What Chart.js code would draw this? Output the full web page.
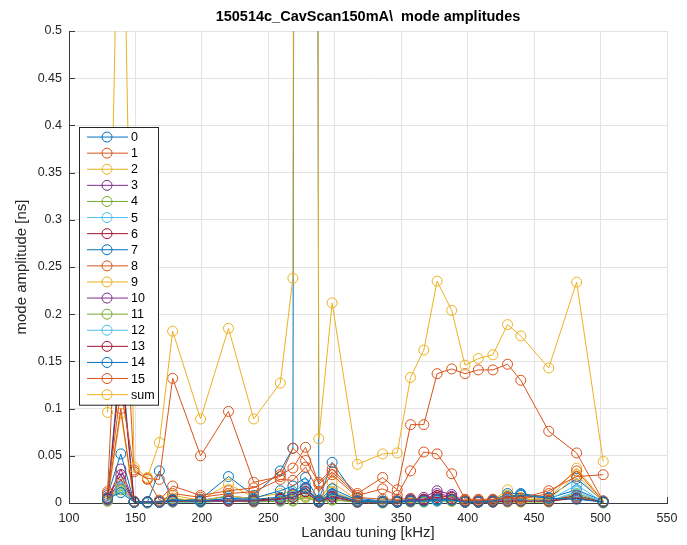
<!DOCTYPE html>
<html>
<head>
<meta charset="utf-8">
<script src="https://cdn.jsdelivr.net/npm/chart.js@4.4.1/dist/chart.umd.min.js"></script>
<style>
  html, body { margin: 0; padding: 0; background: #ffffff; }
  canvas { display: block; }
</style>
</head>
<body>
<canvas id="chart" width="687" height="545"></canvas>
<script>
// Landau cavity tuning of each measurement [kHz]
const landauKHz = [129, 139, 149, 159, 168, 178, 199, 220, 239, 259, 268.5, 278, 288, 298, 317,
                   336, 347, 357, 367, 377, 388, 398, 408, 419, 430, 440, 461, 482, 502];

// Mode amplitudes [ns], one array per coupled-bunch mode
const mode0  = [0.008, 0.052, 0.001, 0.001, 0.034, 0.003, 0.004, 0.028, 0.008, 0.034, 0.058, 8.0, 0.003, 0.043, 0.005, 0.002, 0.002, 0.003, 0.003, 0.004, 0.004, 0.002, 0.002, 0.003, 0.007, 0.009, 0.005, 0.014, 0.002];
const mode1  = [0.012, 0.300, 0.033, 0.026, 0.025, 0.132, 0.050, 0.097, 0.022, 0.028, 0.058, 0.045, 0.022, 0.036, 0.010, 0.027, 0.014, 0.083, 0.083, 0.137, 0.142, 0.137, 0.141, 0.141, 0.147, 0.130, 0.076, 0.053, 0.002];
const mode2  = [0.003, 0.095, 0.001, 0.001, 0.001, 0.008, 0.003, 0.020, 0.006, 0.010, 0.012, 0.010, 0.002, 0.022, 0.003, 0.002, 0.002, 0.002, 0.002, 0.003, 0.003, 0.002, 0.002, 0.003, 0.014, 0.006, 0.004, 0.037, 0.002];
const mode3  = [0.004, 0.036, 0.001, 0.001, 0.001, 0.003, 0.002, 0.004, 0.003, 0.004, 0.008, 0.016, 0.002, 0.008, 0.002, 0.001, 0.002, 0.004, 0.006, 0.013, 0.009, 0.002, 0.002, 0.002, 0.004, 0.004, 0.003, 0.008, 0.001];
const mode4  = [0.003, 0.018, 0.001, 0.001, 0.001, 0.002, 0.001, 0.003, 0.002, 0.002, 0.003, 0.008, 0.001, 0.004, 0.001, 0.001, 0.001, 0.002, 0.002, 0.003, 0.002, 0.001, 0.001, 0.001, 0.002, 0.002, 0.002, 0.010, 0.001];
const mode5  = [0.004, 0.022, 0.001, 0.001, 0.001, 0.002, 0.002, 0.004, 0.003, 0.004, 0.012, 0.020, 0.002, 0.012, 0.002, 0.001, 0.002, 0.003, 0.003, 0.003, 0.004, 0.001, 0.001, 0.002, 0.004, 0.004, 0.003, 0.019, 0.001];
const mode6  = [0.005, 0.030, 0.001, 0.001, 0.001, 0.003, 0.002, 0.003, 0.003, 0.005, 0.009, 0.015, 0.002, 0.009, 0.002, 0.001, 0.002, 0.003, 0.004, 0.008, 0.006, 0.002, 0.002, 0.002, 0.003, 0.003, 0.003, 0.007, 0.001];
const mode7  = [0.006, 0.160, 0.001, 0.001, 0.002, 0.004, 0.003, 0.007, 0.005, 0.013, 0.018, 0.027, 0.003, 0.015, 0.003, 0.002, 0.002, 0.003, 0.003, 0.004, 0.004, 0.002, 0.002, 0.003, 0.010, 0.010, 0.006, 0.026, 0.002];
const mode8  = [0.006, 0.100, 0.002, 0.001, 0.001, 0.010, 0.006, 0.010, 0.012, 0.025, 0.024, 0.038, 0.012, 0.030, 0.006, 0.004, 0.004, 0.005, 0.004, 0.006, 0.004, 0.003, 0.003, 0.003, 0.005, 0.004, 0.010, 0.034, 0.002];
const mode9  = [0.002, 0.020, 0.001, 0.001, 0.001, 0.005, 0.002, 0.008, 0.004, 0.006, 0.008, 0.007, 0.002, 0.012, 0.002, 0.001, 0.001, 0.002, 0.002, 0.002, 0.002, 0.001, 0.001, 0.002, 0.008, 0.004, 0.003, 0.030, 0.001];
const mode10 = [0.003, 0.025, 0.001, 0.001, 0.001, 0.002, 0.002, 0.003, 0.002, 0.003, 0.006, 0.012, 0.001, 0.006, 0.001, 0.001, 0.001, 0.003, 0.004, 0.010, 0.007, 0.001, 0.001, 0.002, 0.003, 0.003, 0.002, 0.006, 0.001];
const mode11 = [0.002, 0.014, 0.001, 0.000, 0.001, 0.001, 0.001, 0.002, 0.001, 0.002, 0.002, 0.006, 0.001, 0.003, 0.001, 0.000, 0.001, 0.001, 0.001, 0.002, 0.002, 0.001, 0.001, 0.001, 0.001, 0.001, 0.001, 0.007, 0.000];
const mode12 = [0.003, 0.016, 0.001, 0.000, 0.001, 0.001, 0.001, 0.002, 0.002, 0.003, 0.007, 0.013, 0.001, 0.008, 0.001, 0.001, 0.001, 0.002, 0.002, 0.002, 0.003, 0.001, 0.001, 0.001, 0.003, 0.003, 0.002, 0.012, 0.001];
const mode13 = [0.004, 0.150, 0.001, 0.001, 0.001, 0.002, 0.002, 0.002, 0.002, 0.004, 0.006, 0.012, 0.001, 0.007, 0.001, 0.001, 0.001, 0.002, 0.003, 0.006, 0.004, 0.001, 0.001, 0.001, 0.002, 0.002, 0.002, 0.005, 0.001];
const mode14 = [0.005, 0.011, 0.001, 0.001, 0.001, 0.003, 0.002, 0.005, 0.004, 0.006, 0.010, 0.016, 0.002, 0.010, 0.002, 0.001, 0.001, 0.002, 0.002, 0.003, 0.003, 0.001, 0.001, 0.002, 0.006, 0.008, 0.005, 0.004, 0.001];
const mode15 = [0.010, 0.120, 0.035, 0.025, 0.003, 0.018, 0.008, 0.013, 0.016, 0.030, 0.037, 0.059, 0.020, 0.033, 0.008, 0.015, 0.008, 0.034, 0.054, 0.052, 0.031, 0.004, 0.004, 0.004, 0.006, 0.005, 0.013, 0.028, 0.030];
const modeSum = [0.096, 0.800, 0.038, 0.027, 0.064, 0.182, 0.089, 0.185, 0.089, 0.127, 0.238, 8.4, 0.068, 0.212, 0.041, 0.052, 0.053, 0.133, 0.162, 0.235, 0.204, 0.146, 0.153, 0.157, 0.189, 0.177, 0.143, 0.234, 0.044];

const seriesLabels = ['0', '1', '2', '3', '4', '5', '6', '7', '8', '9', '10', '11', '12', '13', '14', '15', 'sum'];
const seriesValues = [mode0, mode1, mode2, mode3, mode4, mode5, mode6, mode7, mode8, mode9,
                      mode10, mode11, mode12, mode13, mode14, mode15, modeSum];

// default line colour order, repeated every seven series
const colorOrder = ['#0072BD', '#D95319', '#EDB120', '#7E2F8E', '#77AC30', '#4DBEEE', '#A2142F'];

const xTickValues = [100, 150, 200, 250, 300, 350, 400, 450, 500, 550];
const yTickValues = [0, 0.05, 0.1, 0.15, 0.2, 0.25, 0.3, 0.35, 0.4, 0.45, 0.5];

const FONT = '"Liberation Sans", Arial, Helvetica, sans-serif';
const AXIS_COLOR = '#3a3a3a';

const datasets = seriesValues.map((vals, i) => {
  const c = colorOrder[i % colorOrder.length];
  return {
    label: seriesLabels[i],
    data: landauKHz.map((x, k) => ({ x: x, y: vals[k] })),
    borderColor: c,
    backgroundColor: c,
    borderWidth: 1,
    pointRadius: 5,
    pointHoverRadius: 5,
    pointBorderWidth: 1,
    pointBorderColor: c,
    pointBackgroundColor: 'rgba(0,0,0,0)',
    tension: 0,
    fill: false,
    order: seriesValues.length - i,
    clip: { left: 8, right: 8, top: 0, bottom: 8 }
  };
});

// inward tick marks along the left and bottom axes
const inwardTicks = {
  id: 'inwardTicks',
  afterDatasetsDraw(chart) {
    const { ctx, chartArea: a, scales } = chart;
    ctx.save();
    ctx.strokeStyle = AXIS_COLOR;
    ctx.lineWidth = 1;
    ctx.beginPath();
    xTickValues.forEach(v => {
      const px = Math.round(scales.x.getPixelForValue(v)) + 0.5;
      ctx.moveTo(px, a.bottom);
      ctx.lineTo(px, a.bottom - 6);
    });
    yTickValues.forEach(v => {
      const py = Math.round(scales.y.getPixelForValue(v)) + 0.5;
      ctx.moveTo(a.left, py);
      ctx.lineTo(a.left + 6, py);
    });
    ctx.stroke();
    ctx.restore();
  }
};

// bold title centred over the plotting area
const plotTitle = {
  id: 'plotTitle',
  afterDraw(chart, args, opts) {
    const { ctx, chartArea: a } = chart;
    ctx.save();
    ctx.font = 'bold 14.5px ' + FONT;
    ctx.fillStyle = '#000000';
    ctx.textAlign = 'center';
    ctx.textBaseline = 'middle';
    ctx.fillText(opts.text, (a.left + a.right) / 2, opts.y);
    ctx.restore();
  }
};

// boxed legend in the upper-left corner of the axes: line + open circle + label
const boxedLegend = {
  id: 'boxedLegend',
  afterDraw(chart, args, opts) {
    const { ctx } = chart;
    const ds = chart.data.datasets;
    const h = opts.padY * 2 + opts.rowHeight * ds.length;
    ctx.save();
    ctx.fillStyle = '#ffffff';
    ctx.fillRect(opts.x, opts.y, opts.width, h);
    ctx.strokeStyle = '#262626';
    ctx.lineWidth = 1;
    ctx.strokeRect(opts.x + 0.5, opts.y + 0.5, opts.width, h);
    ctx.font = '12.5px ' + FONT;
    ctx.textAlign = 'left';
    ctx.textBaseline = 'middle';
    ds.forEach((d, i) => {
      const cy = opts.y + opts.padY + opts.rowHeight * (i + 0.5);
      ctx.strokeStyle = d.borderColor;
      ctx.beginPath();
      ctx.moveTo(opts.x + 8, cy);
      ctx.lineTo(opts.x + 49, cy);
      ctx.stroke();
      ctx.beginPath();
      ctx.arc(opts.x + 28, cy, 5, 0, Math.PI * 2);
      ctx.stroke();
      ctx.fillStyle = '#000000';
      ctx.fillText(d.label, opts.x + 52, cy + 0.5);
    });
    ctx.restore();
  }
};

new Chart(document.getElementById('chart'), {
  type: 'line',
  data: { datasets: datasets },
  plugins: [inwardTicks, plotTitle, boxedLegend],
  options: {
    responsive: false,
    animation: false,
    events: [],
    layout: { padding: { top: 31, right: 20, left: 0, bottom: 0 } },
    plugins: {
      legend: { display: false },
      title: { display: false },
      tooltip: { enabled: false },
      plotTitle: { text: '150514c_CavScan150mA\\  mode amplitudes', y: 17 },
      boxedLegend: { x: 79, y: 127, width: 79, rowHeight: 16.1, padY: 2 }
    },
    scales: {
      x: {
        type: 'linear',
        min: 100,
        max: 550,
        afterFit(scale) { scale.height = 42; },
        afterBuildTicks(scale) { scale.ticks = xTickValues.map(v => ({ value: v })); },
        ticks: {
          padding: 8,
          color: '#262626',
          font: { family: FONT, size: 12.5 },
          maxRotation: 0,
          autoSkip: false
        },
        grid: { color: '#e3e3e3', lineWidth: 1, drawTicks: false },
        border: { display: true, color: AXIS_COLOR, width: 1 },
        title: {
          display: true,
          text: 'Landau tuning [kHz]',
          color: '#262626',
          font: { family: FONT, size: 15 },
          padding: { top: 0, bottom: 3 }
        }
      },
      y: {
        type: 'linear',
        min: 0,
        max: 0.5,
        afterFit(scale) { scale.width = 69; },
        afterBuildTicks(scale) { scale.ticks = yTickValues.map(v => ({ value: v })); },
        ticks: {
          padding: 7,
          color: '#262626',
          font: { family: FONT, size: 12.5 },
          autoSkip: false,
          callback: v => String(Math.round(v * 100) / 100)
        },
        grid: { color: '#e3e3e3', lineWidth: 1, drawTicks: false },
        border: { display: true, color: AXIS_COLOR, width: 1 },
        title: {
          display: true,
          text: 'mode amplitude [ns]',
          color: '#262626',
          font: { family: FONT, size: 15 },
          padding: { top: 13, bottom: 0 }
        }
      }
    }
  }
});
</script>
</body>
</html>
